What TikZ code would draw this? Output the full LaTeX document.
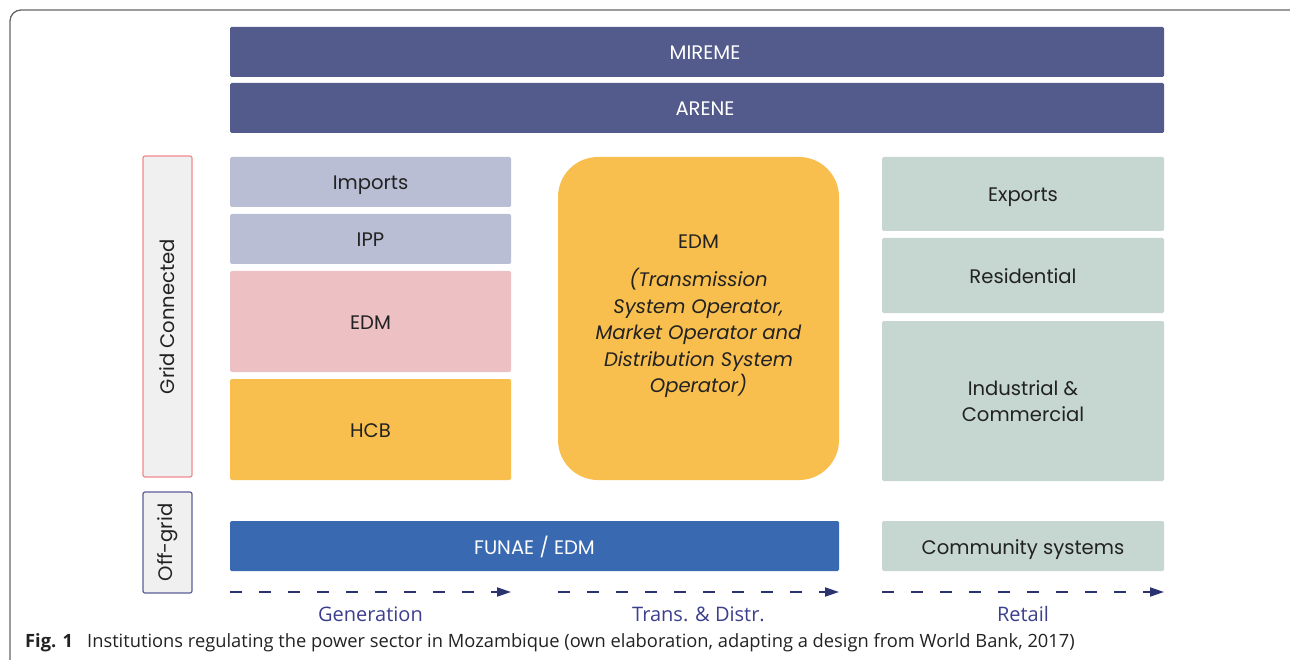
\documentclass[tikz,border=0pt]{standalone}
\usepackage{fontspec}
\setmainfont{Poppins}
\newfontfamily\capfont{Open Sans}
\usetikzlibrary{arrows.meta}
\definecolor{navybox}{HTML}{535A8C}
\definecolor{lilac}{HTML}{B9BED5}
\definecolor{rose}{HTML}{EDC0C3}
\definecolor{amber}{HTML}{F8BF4F}
\definecolor{sage}{HTML}{C6D6D1}
\definecolor{funae}{HTML}{3869B1}
\definecolor{sidefill}{HTML}{EFF0EF}
\definecolor{gridred}{HTML}{F08A8F}
\definecolor{offnavy}{HTML}{5B5E9B}
\definecolor{arrowc}{HTML}{2B3270}
\definecolor{labc}{HTML}{3B3F8C}
\definecolor{txt}{HTML}{222222}
\definecolor{framec}{HTML}{666666}
\tikzset{
  box/.style={rectangle, rounded corners=1.5pt, inner sep=0pt, draw=none, text=txt,
    font=\fontsize{19.6}{26}\selectfont, align=center},
  oneline/.style={text height=16pt, text depth=0pt},
  sidebox/.style={rectangle, rounded corners=2pt, fill=sidefill, line width=1.2pt,
    minimum height=49pt, inner sep=0pt, text=txt, rotate=90, font=\fontsize{19.6}{24}\selectfont},
  flow/.style={draw=arrowc, line width=2pt, dash pattern=on 12pt off 17pt,
    -{Triangle[length=14pt,width=9pt]}},
  stage/.style={text=labc, font=\capfont\fontsize{20}{24}\selectfont}
}
\begin{document}
\begin{tikzpicture}[x=1pt,y=-1pt]
\useasboundingbox (0,0) rectangle (1290,660);
% frame
\draw[framec, line width=1.3pt, rounded corners=11pt] (10,700) -- (10,10) -- (1300,10);
% top bars
\node[box, oneline, fill=navybox, text=white, minimum width=934pt, minimum height=50pt] (mireme) at (697,52) {\hspace*{16pt}MIREME};
\node[box, oneline, fill=navybox, text=white, minimum width=934pt, minimum height=50pt] (arene) at (697,108) {\hspace*{16pt}ARENE};
% side labels
\node[sidebox, draw=gridred, minimum width=321pt] (grid) at (167.5,316.5) {Grid Connected};
\node[sidebox, draw=offnavy, minimum width=101pt] (off) at (167.5,542.5) {Off-grid};
% generation column
\node[box, oneline, fill=lilac, minimum width=281pt, minimum height=50pt] (imports) at (370.5,182) {Imports};
\node[box, oneline, fill=lilac, minimum width=281pt, minimum height=50pt] (ipp) at (370.5,239) {IPP};
\node[box, oneline, fill=rose, minimum width=281pt, minimum height=101pt] (edmg) at (370.5,321.5) {EDM};
\node[box, oneline, fill=amber, minimum width=281pt, minimum height=101pt] (hcb) at (370.5,429.5) {HCB};
% transmission column
\node[box, fill=amber, rounded corners=40pt, minimum width=281pt, minimum height=323pt] (edmt) at (698.5,318.5) {};
\node[box, anchor=base] (edmtitle) at (698.5,249) {EDM};
\node[box, anchor=north, font=\fontsize{19.6}{26.5}\selectfont\itshape] (edmsub) at (698.5,268) {(Transmission\\System Operator,\\Market Operator and\\Distribution System\\Operator)};
% retail column
\node[box, oneline, fill=sage, minimum width=282pt, minimum height=74pt] (exports) at (1023,194) {Exports};
\node[box, oneline, fill=sage, minimum width=282pt, minimum height=75pt] (resid) at (1023,275.5) {Residential};
\node[box, fill=sage, minimum width=282pt, minimum height=160pt] (indus) at (1023,401) {Industrial \&\\Commercial};
% off-grid row
\node[box, oneline, fill=funae, text=white, minimum width=609pt, minimum height=50pt] (funae) at (534.5,546) {FUNAE / EDM};
\node[box, oneline, fill=sage, minimum width=282pt, minimum height=50pt] (comm) at (1023,546) {Community systems};
% flow arrows
\coordinate (g1) at (230,592); \coordinate (g2) at (511,592);
\coordinate (t1) at (558,592); \coordinate (t2) at (839,592);
\coordinate (r1) at (882,592); \coordinate (r2) at (1164,592);
\draw[flow] (g1) -- (g2);
\draw[flow] (t1) -- (t2);
\draw[flow] (r1) -- (r2);
\node[stage] (gen) at (370.5,614) {Generation};
\node[stage] (trans) at (698.5,614) {Trans. \& Distr.};
\node[stage] (ret) at (1023,614) {Retail};
% caption
\node[anchor=base west, inner sep=0pt, font=\capfont\fontsize{18.3}{20}\selectfont\bfseries, text=txt] (figno) at (25,647) {Fig. 1};
\node[anchor=base west, inner sep=0pt, font=\capfont\fontsize{18.3}{20}\selectfont, text=txt] (captxt) at (87,647) {Institutions regulating the power sector in Mozambique (own elaboration, adapting a design from World Bank, 2017)};
\end{tikzpicture}
\end{document}
